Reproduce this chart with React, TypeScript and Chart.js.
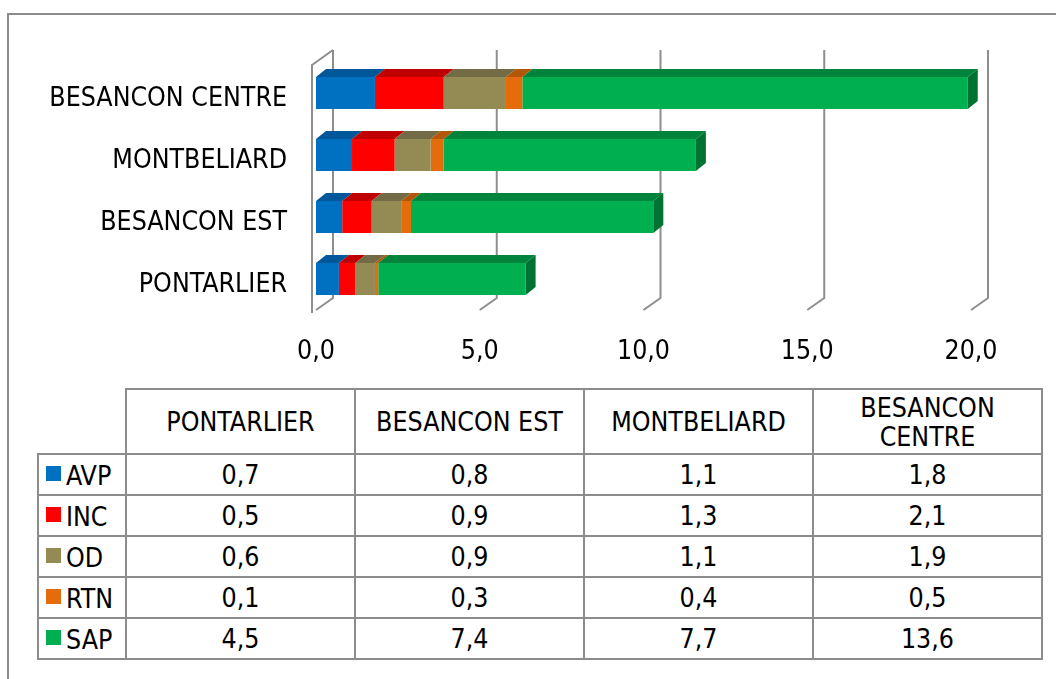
import React, { useEffect, useRef } from 'react';
import { Chart, registerables } from 'chart.js';

Chart.register(...registerables);

const categories = ['PONTARLIER', 'BESANCON EST', 'MONTBELIARD', 'BESANCON CENTRE'];
const seriesNames = ['AVP', 'INC', 'OD', 'RTN', 'SAP'];
const avpValues = [0.7, 0.8, 1.1, 1.8];
const incValues = [0.5, 0.9, 1.3, 2.1];
const odValues = [0.6, 0.9, 1.1, 1.9];
const rtnValues = [0.1, 0.3, 0.4, 0.5];
const sapValues = [4.5, 7.4, 7.7, 13.6];
const seriesValues = [avpValues, incValues, odValues, rtnValues, sapValues];
const xTickValues = [0, 5, 10, 15, 20];

const frontColors = ['#0070C0', '#FF0000', '#948A54', '#E46C0A', '#00B050'];
const topColors = ['#00589A', '#C00000', '#736B45', '#B35608', '#00843C'];
const sideColor = '#007232';
const gridColor = '#8E8E8E';
const FONT = '"DejaVu Sans Condensed", "DejaVu Sans", sans-serif';
const FONT_SIZE = 26.5;

const fmt = (v: number) => v.toFixed(1).replace('.', ',');

const depthPlugin = {
  id: 'depth3d',
  beforeDatasetsDraw(chart: any) {
    const { ctx, chartArea, scales } = chart;
    const xs = scales.x;
    const gdx = 17, gdy = 12;
    ctx.save();
    ctx.strokeStyle = gridColor;
    ctx.lineWidth = 2;
    ctx.beginPath();
    ctx.moveTo(chartArea.left - 4, chartArea.bottom + 3);
    ctx.lineTo(chartArea.left - 4, chartArea.top + 3);
    ctx.lineTo(chartArea.left + gdx, chartArea.top - gdy);
    ctx.stroke();
    for (const v of xTickValues) {
      const x = xs.getPixelForValue(v);
      ctx.beginPath();
      ctx.moveTo(x + gdx, chartArea.top - gdy);
      ctx.lineTo(x + gdx, chartArea.bottom - gdy);
      ctx.lineTo(x, chartArea.bottom);
      ctx.stroke();
    }
    ctx.restore();
  },
  afterDatasetsDraw(chart: any) {
    const { ctx } = chart;
    const dx = 10, dy = 8;
    ctx.save();
    const n = chart.data.datasets.length;
    for (let d = 0; d < n; d++) {
      const meta = chart.getDatasetMeta(d);
      meta.data.forEach((el: any) => {
        const p = el.getProps(['x', 'y', 'base', 'height'], true);
        const top = p.y - p.height / 2;
        const bottom = p.y + p.height / 2;
        const x0 = Math.min(p.base, p.x);
        const x1 = Math.max(p.base, p.x);
        ctx.fillStyle = topColors[d];
        ctx.beginPath();
        ctx.moveTo(x0, top);
        ctx.lineTo(x1, top);
        ctx.lineTo(x1 + dx, top - dy);
        ctx.lineTo(x0 + dx, top - dy);
        ctx.closePath();
        ctx.fill();
        if (d === n - 1) {
          ctx.fillStyle = sideColor;
          ctx.beginPath();
          ctx.moveTo(x1, top);
          ctx.lineTo(x1 + dx, top - dy);
          ctx.lineTo(x1 + dx, bottom - dy);
          ctx.lineTo(x1, bottom);
          ctx.closePath();
          ctx.fill();
        }
      });
    }
    ctx.restore();
  },
};

function ChartCanvas() {
  const ref = useRef<HTMLCanvasElement | null>(null);
  useEffect(() => {
    if (!ref.current) return;
    const chart = new Chart(ref.current, {
      type: 'bar',
      data: {
        labels: categories,
        datasets: seriesNames.map((name, i) => ({
          label: name,
          data: seriesValues[i],
          backgroundColor: frontColors[i],
          borderWidth: 0,
          categoryPercentage: 0.516,
          barPercentage: 1,
        })),
      },
      options: {
        indexAxis: 'y',
        animation: false,
        responsive: false,
        maintainAspectRatio: false,
        layout: { padding: { top: 62, right: 85, left: 0, bottom: 0 } },
        plugins: { legend: { display: false }, tooltip: { enabled: false } },
        scales: {
          x: {
            stacked: true,
            min: 0,
            max: 20,
            grid: { display: false, drawTicks: false },
            border: { display: false },
            afterFit(scale: any) { scale.height = 70; },
            afterBuildTicks(scale: any) { scale.ticks = xTickValues.map((v) => ({ value: v })); },
            ticks: {
              padding: 26,
              color: '#000',
              font: { family: FONT, size: FONT_SIZE },
              maxRotation: 0,
              callback: (v: any) => fmt(Number(v)),
            },
          },
          y: {
            stacked: true,
            reverse: true,
            grid: { display: false, drawTicks: false },
            border: { display: false },
            afterFit(scale: any) { scale.width = 316; },
            ticks: {
              padding: 29,
              labelOffset: 6,
              color: '#000',
              font: { family: FONT, size: FONT_SIZE },
            },
          },
        },
      },
      plugins: [depthPlugin],
    } as any);
    return () => chart.destroy();
  }, []);
  return (
    <canvas
      ref={ref}
      width={1056}
      height={380}
      style={{ position: 'absolute', left: 0, top: 0, width: 1056, height: 380 }}
    />
  );
}

const cellBorder = '2px solid #8C8C8C';

export default function App() {
  return (
    <div style={{ position: 'fixed', inset: 0, overflow: 'hidden', background: '#fff', fontFamily: FONT }}>
      <div
        style={{
          position: 'absolute',
          left: 7,
          top: 13,
          width: 1100,
          height: 700,
          borderLeft: cellBorder,
          borderTop: cellBorder,
        }}
      />
      <ChartCanvas />
      <table
        style={{
          position: 'absolute',
          left: 37,
          top: 388,
          borderCollapse: 'collapse',
          tableLayout: 'fixed',
          width: 1004,
          fontSize: FONT_SIZE,
          color: '#000',
          fontFamily: FONT,
        }}
      >
        <colgroup>
          <col style={{ width: 88 }} />
          {categories.map((c) => (
            <col key={c} style={{ width: 229 }} />
          ))}
        </colgroup>
        <thead>
          <tr style={{ height: 65 }}>
            <th style={{ border: 'none', borderRight: cellBorder, borderBottom: cellBorder }} />
            {categories.map((c) => (
              <th
                key={c}
                style={{ border: cellBorder, fontWeight: 'normal', textAlign: 'center', lineHeight: '29px', padding: '0 8px' }}
              >
                {c}
              </th>
            ))}
          </tr>
        </thead>
        <tbody>
          {seriesNames.map((name, i) => (
            <tr key={name} style={{ height: 41 }}>
              <td style={{ border: cellBorder, padding: '0 0 0 7px', whiteSpace: 'nowrap', lineHeight: '37px' }}>
                <span
                  style={{
                    display: 'inline-block',
                    width: 15,
                    height: 15,
                    background: frontColors[i],
                    marginRight: 5,
                    verticalAlign: 'middle',
                    position: 'relative',
                    top: -2,
                  }}
                />
                <span style={{ verticalAlign: 'middle' }}>{name}</span>
              </td>
              {seriesValues[i].map((v, j) => (
                <td key={j} style={{ border: cellBorder, textAlign: 'center', padding: 0, lineHeight: '37px' }}>
                  {fmt(v)}
                </td>
              ))}
            </tr>
          ))}
        </tbody>
      </table>
    </div>
  );
}
